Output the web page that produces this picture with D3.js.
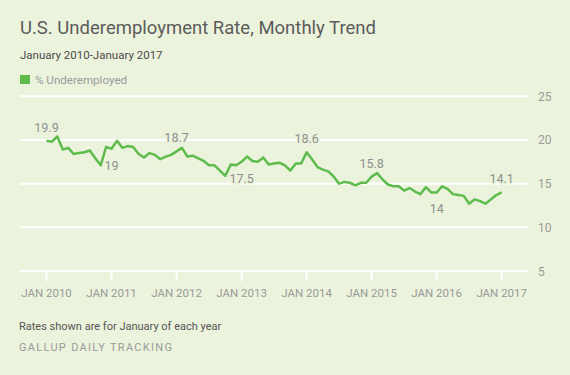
<!DOCTYPE html>
<html>
<head>
<meta charset="utf-8">
<script src="https://cdn.jsdelivr.net/npm/d3@7"></script>
<style>
  body { margin: 0; background: #ecf3dd; }
  svg text { font-family: Roboto, "Noto Sans", sans-serif; }
</style>
</head>
<body>
<div id="chart"></div>
<script>
// monthly underemployment, Jan 2010 .. Jan 2017
var rates = [
  19.9, 19.8, 20.4, 18.9, 19.1, 18.4, 18.5, 18.6, 18.8, 17.9, 17.1, 19.2,
  19.0, 19.9, 19.1, 19.3, 19.2, 18.4, 18.0, 18.5, 18.3, 17.8, 18.1, 18.3,
  18.7, 19.1, 18.1, 18.2, 17.9, 17.6, 17.1, 17.1, 16.5, 15.9, 17.2, 17.1,
  17.5, 18.1, 17.6, 17.5, 18.0, 17.2, 17.3, 17.4, 17.1, 16.5, 17.3, 17.3,
  18.6, 17.8, 16.9, 16.6, 16.4, 15.8, 15.0, 15.2, 15.1, 14.8, 15.1, 15.1,
  15.8, 16.2, 15.5, 14.9, 14.7, 14.7, 14.2, 14.5, 14.1, 13.8, 14.6, 14.0,
  14.0, 14.7, 14.4, 13.8, 13.7, 13.6, 12.7, 13.2, 13.0, 12.7, 13.2, 13.7,
  14.0
]
var years = ["JAN 2010","JAN 2011","JAN 2012","JAN 2013","JAN 2014","JAN 2015","JAN 2016","JAN 2017"]
var janLabels = ["19.9","19","18.7","17.5","18.6","15.8","14","14.1"]
var labelBelow = [false, true, false, true, false, false, true, false]
var yTicks = [5, 10, 15, 20, 25]

var width = 570,
    height = 375

var svg = d3.select("#chart")
    .append("svg")
    .attr("width", width)
    .attr("height", height)

svg.append("rect")
    .attr("width", width)
    .attr("height", height)
    .attr("fill", "#ecf3dd")

var x = d3.scaleLinear().domain([0, rates.length - 1]).range([46.5, 501.7])
var y = d3.scaleLinear().domain([5, 25]).range([271, 96.3])

// titles
svg.append("text").attr("x", 20).attr("y", 34)
    .attr("font-size", 18.5).attr("fill", "#5b5b5b")
    .text("U.S. Underemployment Rate, Monthly Trend")
svg.append("text").attr("x", 20).attr("y", 59)
    .attr("font-size", 11.5).attr("fill", "#4a4a4a")
    .text("January 2010-January 2017")

// legend
svg.append("rect").attr("x", 20).attr("y", 75).attr("width", 10).attr("height", 9)
    .attr("fill", "#5dbc4c")
svg.append("text").attr("x", 35).attr("y", 83.5)
    .attr("font-size", 11.6).attr("fill", "#9a9a9a")
    .text("% Underemployed")

// gridlines
svg.selectAll(".grid")
    .data(yTicks)
    .enter()
    .append("line")
    .attr("x1", 20).attr("x2", 528)
    .attr("y1", function(d){return y(d)})
    .attr("y2", function(d){return y(d)})
    .attr("stroke", "#fff")
    .attr("stroke-width", 2)

svg.selectAll(".ylab")
    .data(yTicks)
    .enter()
    .append("text")
    .attr("x", 538)
    .attr("y", function(d){return y(d) + 4.5})
    .attr("font-size", 12).attr("fill", "#9a9a9a")
    .text(function(d){return d})

// x axis ticks + labels, one per January
svg.selectAll(".xtick")
    .data(years)
    .enter()
    .append("line")
    .attr("x1", function(d, i){return x(i * 12)})
    .attr("x2", function(d, i){return x(i * 12)})
    .attr("y1", 271).attr("y2", 281)
    .attr("stroke", "#fff")
    .attr("stroke-width", 2)

svg.selectAll(".xlab")
    .data(years)
    .enter()
    .append("text")
    .attr("x", function(d, i){return x(i * 12)})
    .attr("y", 296.5)
    .attr("text-anchor", "middle")
    .attr("font-size", 11.5).attr("fill", "#9a9a9a")
    .text(function(d){return d})

// the line
var line = d3.line()
    .x(function(d, i){return x(i)})
    .y(function(d){return y(d)})

svg.append("path")
    .attr("d", line(rates))
    .attr("fill", "none")
    .attr("stroke", "#5dbc4c")
    .attr("stroke-width", 2.5)
    .attr("stroke-linejoin", "round")

// January value labels
svg.selectAll(".vlab")
    .data(janLabels)
    .enter()
    .append("text")
    .attr("x", function(d, i){return x(i * 12)})
    .attr("y", function(d, i){return y(rates[i * 12]) + (labelBelow[i] ? 21 : -9)})
    .attr("text-anchor", "middle")
    .attr("font-size", 12.5).attr("fill", "#8f8f8f")
    .attr("stroke", "#ecf3dd").attr("stroke-width", 3)
    .attr("paint-order", "stroke")
    .text(function(d){return d})

// footer
svg.append("text").attr("x", 19).attr("y", 330)
    .attr("font-size", 11).attr("fill", "#555")
    .text("Rates shown are for January of each year")
svg.append("text").attr("x", 19).attr("y", 350.5)
    .attr("font-size", 11).attr("fill", "#9a9a9a")
    .attr("letter-spacing", 1.3)
    .text("GALLUP DAILY TRACKING")
</script>
</body>
</html>
